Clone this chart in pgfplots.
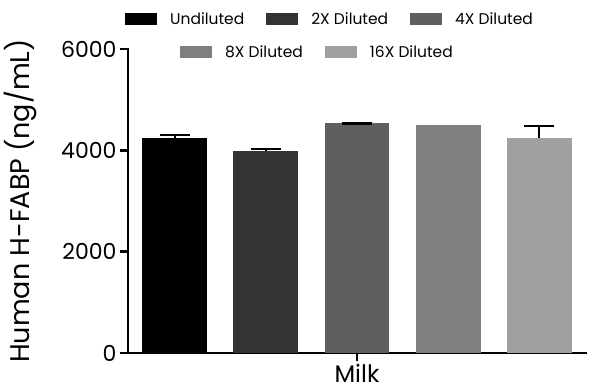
\documentclass[border=0pt]{standalone}
\usepackage{fontspec}
\setmainfont{Poppins}
\usepackage{pgfplots}
\pgfplotsset{compat=1.18}
\definecolor{cA}{HTML}{000000}
\definecolor{cB}{HTML}{333333}
\definecolor{cC}{HTML}{5F5F5F}
\definecolor{cD}{HTML}{7F7F7F}
\definecolor{cE}{HTML}{A0A0A3}
\pgfplotsset{
  base/.style={
    at={(0pt,0pt)}, anchor=south west, scale only axis,
    width=458pt, height=304pt,
    xmin=0.484, xmax=5.516, ymin=0, ymax=6000,
    ybar, bar width=0.714, bar shift=0pt,
    legend cell align=left,
    legend image code/.code={\fill (0pt,-6pt) rectangle (32pt,6pt); \path[draw=none,fill=none] (0pt,0pt) -- (45pt,0pt);},
  },
  eb/.style={error bars/.cd, y dir=plus, y explicit, error mark=|,
    error bar style={line width=2.6pt, black},
    error mark options={line width=2.6pt, mark size=15pt, black}},
}
\begin{document}
\begin{tikzpicture}
\path[use as bounding box] (-128pt,-37pt) rectangle (472pt,353pt);
\begin{axis}[base,
  axis x line*=bottom, axis y line*=left,
  axis line style={line width=2.8pt, black, line cap=rect},
  xtick={3}, xticklabels={Milk},
  ytick={0,2000,4000,6000},
  tick style={line width=2.8pt, black}, major tick length=8pt, tick align=outside,
  /pgf/number format/assume math mode=true,
  yticklabel style={/pgf/number format/1000 sep={}, font=\fontsize{22}{22}\selectfont},
  xticklabel style={font=\fontsize{24}{24}\selectfont},
  ylabel={Human H-FABP (ng/mL)},
  ylabel style={font=\fontsize{27}{27}\selectfont, at={(axis description cs:-0.234,0.5)}, anchor=center},
  legend columns=3,
  legend style={draw=none, fill=none, inner sep=0pt, anchor=west,
    at={(axis description cs:-0.0066,1.0987)},
    font=\fontsize{15.5}{15.5}\selectfont,
    nodes={inner sep=0pt},
    /tikz/every even column/.append style={column sep=22pt}},
]
\addplot[fill=cA, draw=none, eb] coordinates {(1,4245) +- (0,55)};
\addplot[fill=cB, draw=none, eb] coordinates {(2,3985) +- (0,40)};
\addplot[fill=cC, draw=none, eb] coordinates {(3,4530) +- (0,0)};
\legend{Undiluted, 2X Diluted, 4X Diluted}
\end{axis}
\begin{axis}[base, hide axis,
  legend columns=2,
  legend style={draw=none, fill=none, inner sep=0pt, anchor=west,
    at={(axis description cs:0.1135,0.990)},
    font=\fontsize{15.5}{15.5}\selectfont,
    nodes={inner sep=0pt},
    /tikz/every even column/.append style={column sep=22pt}},
]
\addplot[fill=cD, draw=none] coordinates {(4,4500)};
\addplot[fill=cE, draw=none, eb] coordinates {(5,4245) +- (0,235)};
\legend{8X Diluted, 16X Diluted}
\end{axis}
\end{tikzpicture}
\end{document}
